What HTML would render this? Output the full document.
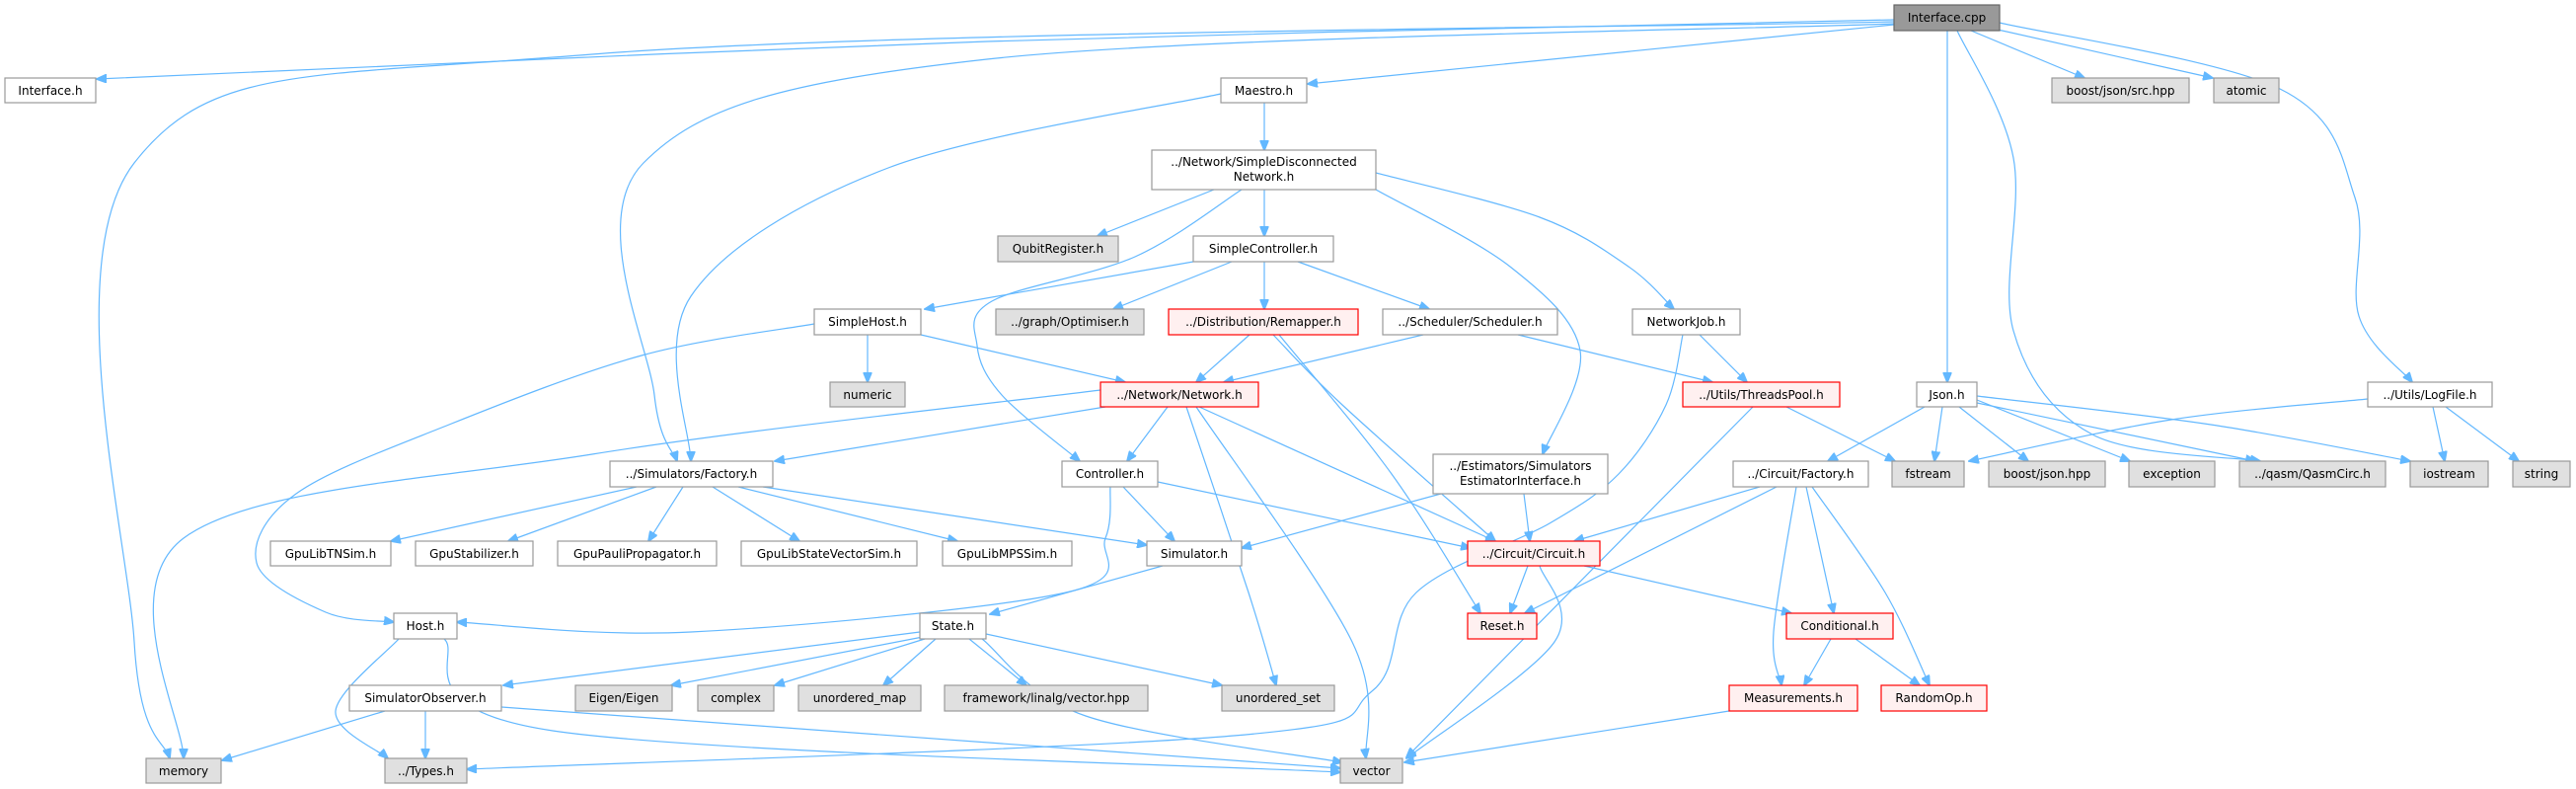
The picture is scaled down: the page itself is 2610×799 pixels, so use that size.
<!DOCTYPE html>
<html><head><meta charset="utf-8">
<style>
html,body{margin:0;padding:0;background:#fff;}
svg{display:block;}
text{font-family:"DejaVu Sans","Liberation Sans",sans-serif;font-size:12px;fill:#000;}
.w{fill:#fff;stroke:#999;stroke-width:1.2;}
.g{fill:#e0e0e0;stroke:#999;stroke-width:1.2;}
.r{fill:#fff0f0;stroke:#f00;stroke-width:1.2;}
.root{fill:#999;stroke:#666;stroke-width:1.2;}
.e{fill:none;stroke:#63b8ff;stroke-width:1.2;}
</style></head>
<body>
<svg id="s" width="2610" height="799" viewBox="0 0 2610 799" xmlns="http://www.w3.org/2000/svg">
<defs><marker id="a" markerWidth="11" markerHeight="9" refX="10" refY="4.5" orient="auto" markerUnits="userSpaceOnUse"><path d="M0,0 L11,4.5 L0,9 z" fill="#63b8ff" stroke="#63b8ff"/></marker></defs>
<g id="edges"></g>
<g id="nodes">
<rect class="root" x="1919" y="5" width="107" height="26"/><text x="1972.5" y="22" text-anchor="middle">Interface.cpp</text>
<rect class="w" x="5" y="79" width="92" height="25"/><text x="51" y="96" text-anchor="middle">Interface.h</text>
<rect class="w" x="1237" y="79" width="87" height="25"/><text x="1280.5" y="96" text-anchor="middle">Maestro.h</text>
<rect class="g" x="2079" y="79" width="139" height="25"/><text x="2148.5" y="96" text-anchor="middle">boost/json/src.hpp</text>
<rect class="g" x="2243" y="79" width="66" height="25"/><text x="2276" y="96" text-anchor="middle">atomic</text>
<rect class="w" x="1167" y="152" width="227" height="40"/><text x="1280.5" y="168" text-anchor="middle">../Network/SimpleDisconnected</text><text x="1280.5" y="183" text-anchor="middle">Network.h</text>
<rect class="g" x="1011" y="239" width="122" height="26"/><text x="1072" y="256" text-anchor="middle">QubitRegister.h</text>
<rect class="w" x="1209" y="239" width="142" height="26"/><text x="1280" y="256" text-anchor="middle">SimpleController.h</text>
<rect class="w" x="825" y="313" width="108" height="26"/><text x="879" y="330" text-anchor="middle">SimpleHost.h</text>
<rect class="g" x="1009" y="313" width="150" height="26"/><text x="1084" y="330" text-anchor="middle">../graph/Optimiser.h</text>
<rect class="r" x="1184" y="313" width="192" height="26"/><text x="1280" y="330" text-anchor="middle">../Distribution/Remapper.h</text>
<rect class="w" x="1401" y="313" width="177" height="26"/><text x="1489.5" y="330" text-anchor="middle">../Scheduler/Scheduler.h</text>
<rect class="w" x="1654" y="313" width="109" height="26"/><text x="1708.5" y="330" text-anchor="middle">NetworkJob.h</text>
<rect class="g" x="841" y="387" width="76" height="25"/><text x="879" y="404" text-anchor="middle">numeric</text>
<rect class="r" x="1115" y="387" width="160" height="25"/><text x="1195" y="404" text-anchor="middle">../Network/Network.h</text>
<rect class="r" x="1705" y="387" width="159" height="25"/><text x="1784.5" y="404" text-anchor="middle">../Utils/ThreadsPool.h</text>
<rect class="w" x="1942" y="387" width="61" height="25"/><text x="1972.5" y="404" text-anchor="middle">Json.h</text>
<rect class="w" x="2399" y="387" width="126" height="25"/><text x="2462" y="404" text-anchor="middle">../Utils/LogFile.h</text>
<rect class="w" x="618" y="467" width="165" height="26"/><text x="700.5" y="484" text-anchor="middle">../Simulators/Factory.h</text>
<rect class="w" x="1076" y="467" width="97" height="26"/><text x="1124.5" y="484" text-anchor="middle">Controller.h</text>
<rect class="w" x="1452" y="460" width="177" height="40"/><text x="1540.5" y="476" text-anchor="middle">../Estimators/Simulators</text><text x="1540.5" y="491" text-anchor="middle">EstimatorInterface.h</text>
<rect class="w" x="1756" y="467" width="137" height="26"/><text x="1824.5" y="484" text-anchor="middle">../Circuit/Factory.h</text>
<rect class="g" x="1917" y="467" width="73" height="26"/><text x="1953.5" y="484" text-anchor="middle">fstream</text>
<rect class="g" x="2015" y="467" width="118" height="26"/><text x="2074" y="484" text-anchor="middle">boost/json.hpp</text>
<rect class="g" x="2157" y="467" width="87" height="26"/><text x="2200.5" y="484" text-anchor="middle">exception</text>
<rect class="g" x="2269" y="467" width="148" height="26"/><text x="2343" y="484" text-anchor="middle">../qasm/QasmCirc.h</text>
<rect class="g" x="2442" y="467" width="79" height="26"/><text x="2481.5" y="484" text-anchor="middle">iostream</text>
<rect class="g" x="2546" y="467" width="58" height="26"/><text x="2575" y="484" text-anchor="middle">string</text>
<rect class="w" x="274" y="548" width="122" height="25"/><text x="335" y="565" text-anchor="middle">GpuLibTNSim.h</text>
<rect class="w" x="421" y="548" width="119" height="25"/><text x="480.5" y="565" text-anchor="middle">GpuStabilizer.h</text>
<rect class="w" x="565" y="548" width="161" height="25"/><text x="645.5" y="565" text-anchor="middle">GpuPauliPropagator.h</text>
<rect class="w" x="751" y="548" width="178" height="25"/><text x="840" y="565" text-anchor="middle">GpuLibStateVectorSim.h</text>
<rect class="w" x="955" y="548" width="131" height="25"/><text x="1020.5" y="565" text-anchor="middle">GpuLibMPSSim.h</text>
<rect class="w" x="1162" y="548" width="96" height="25"/><text x="1210" y="565" text-anchor="middle">Simulator.h</text>
<rect class="r" x="1487" y="548" width="134" height="25"/><text x="1554" y="565" text-anchor="middle">../Circuit/Circuit.h</text>
<rect class="w" x="399" y="621" width="64" height="26"/><text x="431" y="638" text-anchor="middle">Host.h</text>
<rect class="w" x="932" y="621" width="67" height="26"/><text x="965.5" y="638" text-anchor="middle">State.h</text>
<rect class="r" x="1487" y="621" width="70" height="26"/><text x="1522" y="638" text-anchor="middle">Reset.h</text>
<rect class="r" x="1810" y="621" width="108" height="26"/><text x="1864" y="638" text-anchor="middle">Conditional.h</text>
<rect class="w" x="354" y="694" width="154" height="26"/><text x="431" y="711" text-anchor="middle">SimulatorObserver.h</text>
<rect class="g" x="583" y="694" width="98" height="26"/><text x="632" y="711" text-anchor="middle">Eigen/Eigen</text>
<rect class="g" x="707" y="694" width="77" height="26"/><text x="745.5" y="711" text-anchor="middle">complex</text>
<rect class="g" x="809" y="694" width="124" height="26"/><text x="871" y="711" text-anchor="middle">unordered_map</text>
<rect class="g" x="957" y="694" width="206" height="26"/><text x="1060" y="711" text-anchor="middle">framework/linalg/vector.hpp</text>
<rect class="g" x="1238" y="694" width="114" height="26"/><text x="1295" y="711" text-anchor="middle">unordered_set</text>
<rect class="r" x="1752" y="694" width="130" height="26"/><text x="1817" y="711" text-anchor="middle">Measurements.h</text>
<rect class="r" x="1906" y="694" width="107" height="26"/><text x="1959.5" y="711" text-anchor="middle">RandomOp.h</text>
<rect class="g" x="148" y="768" width="76" height="25"/><text x="186" y="785" text-anchor="middle">memory</text>
<rect class="g" x="390" y="768" width="83" height="25"/><text x="431.5" y="785" text-anchor="middle">../Types.h</text>
<rect class="g" x="1358" y="768" width="63" height="25"/><text x="1389.5" y="785" text-anchor="middle">vector</text>
</g>
</svg>
<script>
var E=[
[[1919,20],[1000,42],[98,80]],
[[1919,22],[600,55],[136,165],[136,650],[172,768]],
[[1919,24],[1000,60],[652,165],[663,400],[686,467]],
[[1919,25],[1325,85]],
[[1997,31],[2112,79]],
[[2024,30],[2242,79]],
[[1973,31],[1973,387]],
[[1983,31],[2040,160],[2040,335],[2120,440],[2290,467]],
[[2026,23],[2310,90],[2386,200],[2390,320],[2444,387]],
[[1281,104],[1281,152]],
[[1237,95],[900,170],[700,300],[700,467]],
[[1230,192],[1112,239]],
[[1281,192],[1281,239]],
[[1258,192],[1150,260],[1005,305],[990,350],[1015,400],[1094,467]],
[[1209,265],[937,313]],
[[1394,175],[1560,220],[1650,270],[1696,313]],
[[1394,192],[1530,270],[1601,355],[1563,460]],
[[1248,265],[1128,313]],
[[1281,339],[1281,313]],
[[1315,265],[1448,313]],
[[879,339],[879,387]],
[[933,339],[1140,387]],
[[825,328],[650,360],[455,430],[300,500],[260,570],[330,620],[399,630]],
[[1266,339],[1212,387]],
[[1290,339],[1360,410],[1515,548]],
[[1296,339],[1410,480],[1500,621]],
[[1442,339],[1240,387]],
[[1538,339],[1735,387]],
[[1722,339],[1770,387]],
[[1705,339],[1688,410],[1640,480],[1570,530],[1435,600],[1390,700],[1250,745],[473,779]],
[[1115,395],[600,460],[186,545],[186,768]],
[[1120,412],[785,467]],
[[1183,412],[1142,467]],
[[1215,412],[1515,548]],
[[1202,412],[1265,600],[1293,694]],
[[1212,412],[1370,650],[1384,768]],
[[1810,412],[1920,467]],
[[1776,412],[1425,767]],
[[1950,412],[1852,467]],
[[1968,412],[1960,467]],
[[1985,412],[2055,467]],
[[2003,405],[2158,467]],
[[2003,408],[2285,467]],
[[2003,401],[2240,430],[2442,467]],
[[2399,404],[2200,425],[1995,467]],
[[2465,412],[2477,467]],
[[2478,412],[2552,467]],
[[645,493],[396,548]],
[[665,493],[515,548]],
[[692,493],[657,548]],
[[722,493],[810,548]],
[[748,493],[970,548]],
[[773,493],[1162,552]],
[[1138,493],[1190,548]],
[[1173,488],[1490,555]],
[[1125,493],[1120,545],[1080,600],[700,640],[463,630]],
[[1460,500],[1258,555]],
[[1544,500],[1550,548]],
[[1783,493],[1595,548]],
[[1800,493],[1545,621]],
[[1820,493],[1797,640],[1805,694]],
[[1830,493],[1858,621]],
[[1836,493],[1910,600],[1955,694]],
[[1548,573],[1530,621]],
[[1605,573],[1815,621]],
[[1560,573],[1575,650],[1425,768]],
[[1178,573],[1003,622]],
[[404,647],[340,720],[393,768]],
[[450,647],[560,740],[1358,782]],
[[932,640],[510,694]],
[[935,645],[680,694]],
[[937,647],[785,694]],
[[948,647],[895,694]],
[[982,647],[1040,694]],
[[999,642],[1238,694]],
[[995,647],[1100,725],[1360,772]],
[[390,720],[225,770]],
[[431,720],[431,768]],
[[508,716],[1358,778]],
[[1855,647],[1828,694]],
[[1880,647],[1945,694]],
[[1752,720],[1423,772]]
];
E[18]=[[1281,265],[1281,313]];
var g=document.getElementById('edges'),ns='http://www.w3.org/2000/svg';
E.forEach(function(p){
 var d='M'+p[0][0]+','+p[0][1];
 if(p.length==2){d+=' L'+p[1][0]+','+p[1][1];}
 else{for(var i=0;i<p.length-1;i++){
  var p0=p[i-1]||p[i],p1=p[i],p2=p[i+1],p3=p[i+2]||p2;
  var c1=[p1[0]+(p2[0]-p0[0])/6,p1[1]+(p2[1]-p0[1])/6];
  var c2=[p2[0]-(p3[0]-p1[0])/6,p2[1]-(p3[1]-p1[1])/6];
  d+=' C'+c1.join(',')+' '+c2.join(',')+' '+p2.join(',');}}
 var e=document.createElementNS(ns,'path');e.setAttribute('d',d);e.setAttribute('class','e');e.setAttribute('marker-end','url(#a)');g.appendChild(e);
});
</script>
</body></html>
